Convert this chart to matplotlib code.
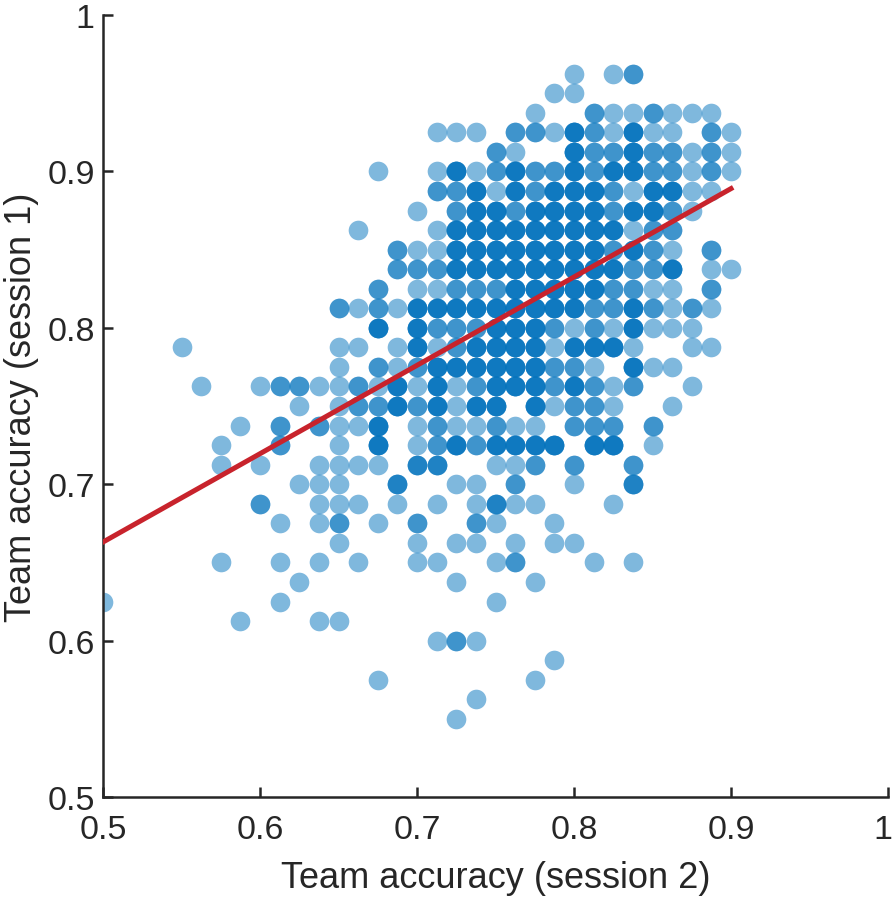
import matplotlib
matplotlib.use("Agg")
import matplotlib.pyplot as plt
from matplotlib.transforms import ScaledTranslation

plt.rcParams['font.family'] = ['Liberation Sans', 'DejaVu Sans']

# accuracy levels (1/80 steps)
session2_levels = [0.5 + 0.0125 * i for i in range(33)]    # x: 0.5 .. 0.9
session1_levels = [0.55 + 0.0125 * j for j in range(34)]   # y: 0.55 .. 0.9625

# number of teams in each cell, one string per session-1 level (bottom to top),
# one character per session-2 level ('.' = none); written in groups of 10 columns
team_counts = [
    ".........." "........1." ".........." "...",  # 0.55
    ".........." ".........1" ".........." "...",  # 0.5625
    ".........." "....1....." "..1......." "...",  # 0.575
    ".........." ".........." "...1......" "...",  # 0.5875
    ".........." ".......121" ".........." "...",  # 0.6
    ".......1.." ".11......." ".........." "...",  # 0.6125
    "1........1" ".........." "1........." "...",  # 0.625
    ".........." "1.......1." "..1......." "...",  # 0.6375
    "......1..1" ".1.1..11.." "12...1.1.." "...",  # 0.65
    ".........." "..1...1.11" ".1.11....." "...",  # 0.6625
    ".........1" ".12.1.2..2" "1..1......" "...",  # 0.675
    "........2." ".111.1.1.1" "311...1..." "...",  # 0.6875
    ".........." "111..3..11" ".2..1..3.." "...",  # 0.7
    "......1.1." ".1111.33.." "112.2..2.." "...",  # 0.7125
    "......1..2" "..1.4.1242" "4444.44.1." "...",  # 0.725
    ".......1.2" ".2114.1211" "211.222.2." "...",  # 0.7375
    ".........." "1.12242414" "4.41221..1" "...",  # 0.75
    ".....1..12" "2112141412" "44424212.." "1..",  # 0.7625
    ".........." "..1.212444" "444221.411" "...",  # 0.775
    "....1....." "..11.14124" "44414441.." "11.",  # 0.7875
    ".........." "....4.4222" "4442121411" "1..",  # 0.8
    ".........." "..21214444" "4444422421" "21.",  # 0.8125
    ".........." "....2.1122" "2444442211" ".2.",  # 0.825
    ".........." ".....22244" "4444444224" ".11",  # 0.8375
    ".........." ".....21144" "4444442421" ".2.",  # 0.85
    ".........." "...1...144" "4444444122" "...",  # 0.8625
    ".........." "......1.24" "4244442442" "1..",  # 0.875
    ".........." ".......224" "1424442144" "11.",  # 0.8875
    ".........." "....1..141" "2422424422" "121",  # 0.9
    ".........." ".........." "21..422422" "121",  # 0.9125
    ".........." ".......111" ".221421411" ".21",  # 0.925
    ".........." ".........." "..1..21121" "11.",  # 0.9375
    ".........." ".........." "...11....." "...",  # 0.95
    ".........." ".........." "....1.12.." "...",  # 0.9625
]

# least-squares line shown in the figure
fit_x = [0.5, 0.9]
fit_y = [0.663, 0.889]

xs, ys = [], []
for y_val, row in zip(session1_levels, team_counts):
    for x_val, ch in zip(session2_levels, row):
        if ch != '.':
            xs += [x_val] * int(ch)
            ys += [y_val] * int(ch)

fig = plt.figure(figsize=(8.94, 9.04), dpi=100)
ax = fig.add_axes([103 / 894, 106 / 904, 785 / 894, 782 / 904])

ax.scatter(xs, ys, s=200, color='#0072BD', alpha=0.5, linewidths=0, zorder=2)
ax.plot(fit_x, fit_y, color='#C8232C', linewidth=3.6, zorder=3)

ax.set_xlim(0.5, 1)
ax.set_ylim(0.5, 1)
ticks = [0.5, 0.6, 0.7, 0.8, 0.9, 1.0]
tick_labels = ['0.5', '0.6', '0.7', '0.8', '0.9', '1']
ax.set_xticks(ticks)
ax.set_xticklabels(tick_labels)
ax.set_yticks(ticks)
ax.set_yticklabels(tick_labels)

for side in ['top', 'right']:
    ax.spines[side].set_visible(False)
for side in ['left', 'bottom']:
    ax.spines[side].set_linewidth(1.8)
    ax.spines[side].set_color('#262626')

ax.tick_params(axis='both', direction='in', length=7, width=1.8,
               color='#262626', labelcolor='#262626', labelsize=24.5)
ax.tick_params(axis='x', pad=12)
ax.tick_params(axis='y', pad=6)

# keep the last x tick label inside the figure
last = ax.get_xticklabels()[-1]
last.set_transform(last.get_transform() + ScaledTranslation(-5 / 100, 0, fig.dpi_scale_trans))

ax.set_xlabel('Team accuracy (session 2)', fontsize=26, color='#262626')
ax.set_ylabel('Team accuracy (session 1)', fontsize=26, color='#262626')
ax.xaxis.set_label_coords(0.5, -0.081)
ax.yaxis.set_label_coords(-0.082, 0.5)

fig.savefig('out.png', dpi=100)
